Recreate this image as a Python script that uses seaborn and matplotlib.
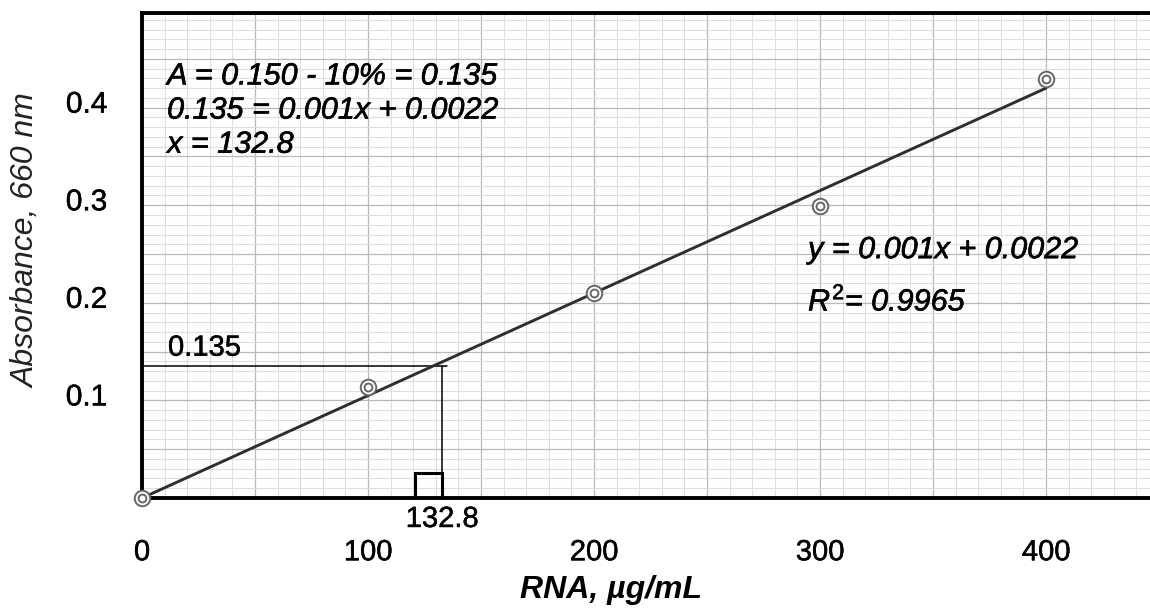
import matplotlib
matplotlib.use("Agg")
import matplotlib.pyplot as plt
import matplotlib.patheffects as pe
import matplotlib.transforms as mtransforms
import seaborn as sns
import pandas as pd
from matplotlib.ticker import MultipleLocator, FuncFormatter
from matplotlib.patches import Rectangle

# ---- data ----
rna = [0, 100, 200, 300, 400]
absorbance = [0.0, 0.114, 0.210, 0.299, 0.429]
trend_x = [0, 400]
trend_y = [0.0, 0.42]
target_a = 0.135
target_x = 132.8
x_ticks = [0, 100, 200, 300, 400]
y_ticks = [0.1, 0.2, 0.3, 0.4]
eq_lines = ["A = 0.150 - 10% = 0.135", "0.135 = 0.001x + 0.0022", "x = 132.8"]
fit_eq = "y = 0.001x + 0.0022"
fit_r2 = "0.9965"

sns.set_style("white")
plt.rcParams["font.family"] = ["Liberation Sans", "DejaVu Sans"]
plt.rcParams["mathtext.fontset"] = "custom"
plt.rcParams["mathtext.rm"] = "Liberation Sans"
plt.rcParams["mathtext.it"] = "Liberation Sans:italic"
plt.rcParams["text.color"] = "black"
plt.rcParams["axes.labelcolor"] = "black"
plt.rcParams["xtick.color"] = "black"
plt.rcParams["ytick.color"] = "black"

heavy = [pe.withStroke(linewidth=0.45, foreground="black")]
light = [pe.withStroke(linewidth=0.35, foreground="black")]

fig = plt.figure(figsize=(11.5, 6.08), dpi=100)
ax = fig.add_axes([142 / 1150, 1 - 498 / 608, 1 - 142 / 1150, (498 - 13) / 608])

ax.set_xlim(0, 446)
ax.set_ylim(0, 0.497)

# graph-paper grid
ax.xaxis.set_major_locator(MultipleLocator(50))
ax.xaxis.set_minor_locator(MultipleLocator(10))
ax.yaxis.set_major_locator(MultipleLocator(0.05))
ax.yaxis.set_minor_locator(MultipleLocator(0.01))
ax.grid(which="major", color="#b8b8b8", linewidth=0.9)
ax.grid(which="minor", color="#dedede", linewidth=0.8)
ax.set_axisbelow(True)

def xfmt(v, pos):
    iv = int(round(v))
    return str(iv) if iv in x_ticks else ""

def yfmt(v, pos):
    for t in y_ticks:
        if abs(v - t) < 1e-6:
            return f"{t:.1f}"
    return ""

ax.xaxis.set_major_formatter(FuncFormatter(xfmt))
ax.yaxis.set_major_formatter(FuncFormatter(yfmt))
ax.tick_params(which="both", length=0)
ax.tick_params(axis="x", labelsize=21, pad=29, labelcolor="black")
ax.tick_params(axis="y", labelsize=21.5, pad=25, labelcolor="black")
shift_up = mtransforms.ScaledTranslation(0, 6 / 100, fig.dpi_scale_trans)
for lab in ax.get_xticklabels():
    lab.set_path_effects(light)
for lab in ax.get_yticklabels():
    lab.set_path_effects(light)
    lab.set_transform(lab.get_transform() + shift_up)

for side in ["left", "top", "bottom"]:
    ax.spines[side].set_linewidth(2.8)
    ax.spines[side].set_color("black")
ax.spines["right"].set_visible(False)

# trend line
sns.lineplot(x=trend_x, y=trend_y, ax=ax, color="#2e2e2e", linewidth=2.1, zorder=3)

# markers (double circles)
df = pd.DataFrame({"rna": rna, "abs": absorbance})
sns.scatterplot(data=df, x="rna", y="abs", ax=ax, s=125, facecolor="white",
                edgecolor="#666666", linewidth=1.4, zorder=4, clip_on=False)
sns.scatterplot(data=df, x="rna", y="abs", ax=ax, s=32, facecolor="white",
                edgecolor="#666666", linewidth=1.4, zorder=5, clip_on=False)

# reference lines
ax.plot([0, target_x + 2], [target_a, target_a], color="black", linewidth=1.1, zorder=2)
ax.plot([target_x, target_x], [0, target_a], color="black", linewidth=1.1, zorder=2)
ax.add_patch(Rectangle((target_x - 12, 0), 12, 0.026, fill=False,
                       edgecolor="black", linewidth=2.2, zorder=3))

ax.text(11.5, 0.154, f"{target_a:.3f}", fontsize=21, va="center", ha="left",
        color="black", path_effects=light)
ax.text(target_x, -0.0215, f"{target_x}", fontsize=21, va="center", ha="center",
        color="black", clip_on=False, path_effects=light)

ys = [0.432, 0.397, 0.362]
for t, yy in zip(eq_lines, ys):
    ax.text(11.1, yy, t, fontsize=22, style="italic", va="center", ha="left",
            color="black", path_effects=heavy)

ax.text(294.7, 0.254, fit_eq, fontsize=22, style="italic", va="center", ha="left",
        color="black", path_effects=heavy)
ax.text(294.7, 0.201, r"$\mathit{R}^{\mathrm{2}}$= " + fit_r2, fontsize=22,
        style="italic", va="center", ha="left", color="black", path_effects=heavy)

ax.set_xlabel("RNA, µg/mL", fontsize=23, fontweight="bold", style="italic",
              color="black")
ax.xaxis.set_label_coords((611 - 142) / 1008, -0.19)
ax.set_ylabel("Absorbance, 660 nm", fontsize=23, style="italic", color="#222222")
ax.yaxis.set_label_coords(-(142 - 27) / 1008, (498 - 241) / 485)
ax.xaxis.label.set_va("center")
ax.yaxis.label.set_va("center")

fig.savefig("out.png", dpi=100)
